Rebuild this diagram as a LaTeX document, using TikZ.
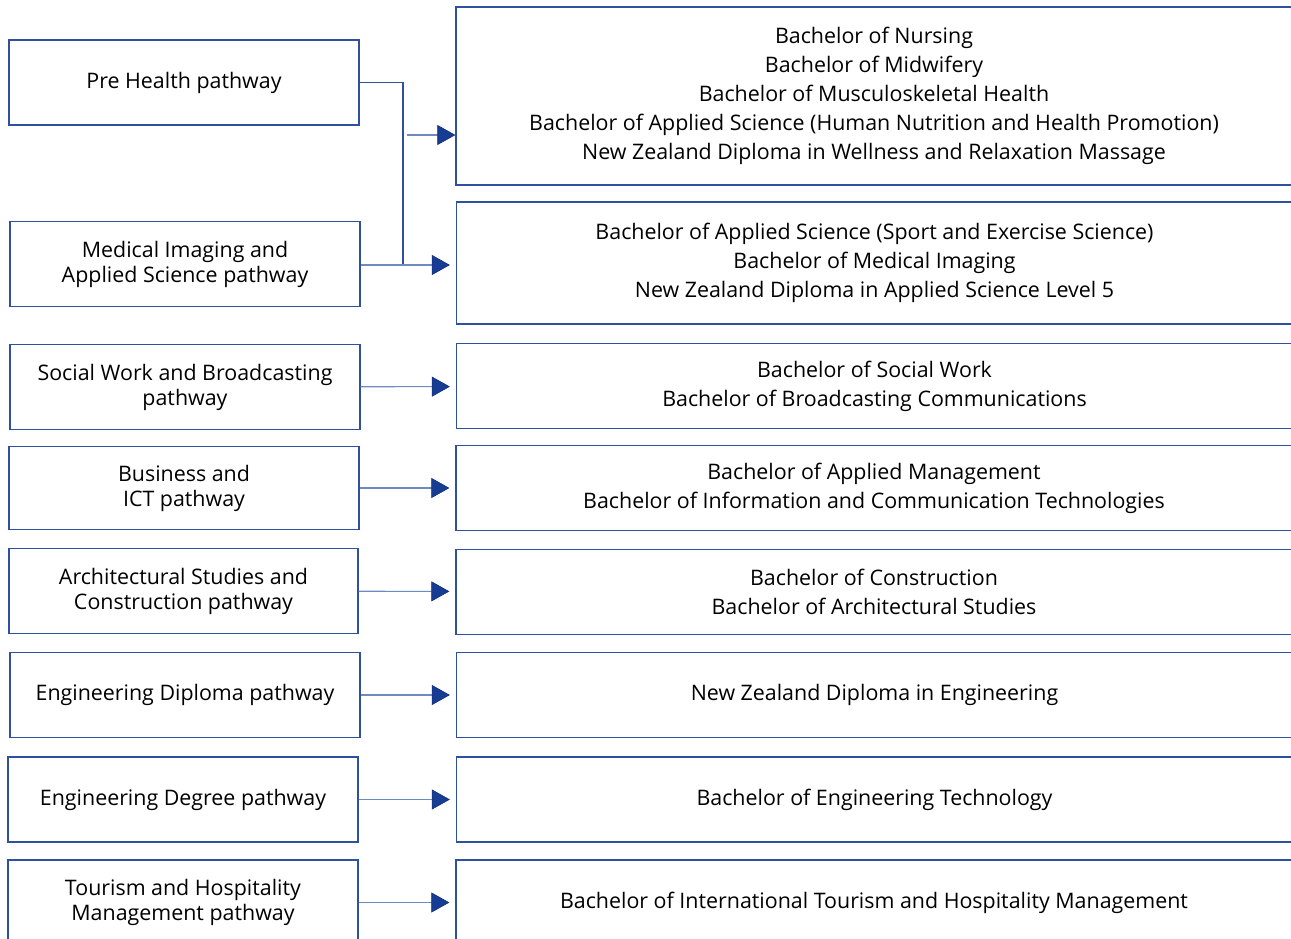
\documentclass[tikz,border=0pt]{standalone}
\usepackage{fontspec}
\setmainfont{Open Sans}
\usetikzlibrary{arrows.meta}
\definecolor{bord}{RGB}{47,80,158}
\definecolor{conn}{RGB}{110,138,192}
\definecolor{tipc}{RGB}{22,60,148}
\newcommand{\raisetxt}[1]{\raisebox{1.5pt}{\begin{tabular}{@{}c@{}}#1\end{tabular}}}
\tikzset{
  lbox/.style={draw=bord, line width=1.3pt, minimum width=350pt, minimum height=85pt, align=center, inner sep=0pt, font=\fontsize{21.4}{25}\selectfont, text=black},
  rbox/.style={draw=bord, line width=1.3pt, minimum width=836pt, minimum height=85pt, align=center, inner sep=0pt, font=\fontsize{21.4}{29}\selectfont, text=black},
  arr/.style={draw=conn, line width=1.1pt, shorten >=6pt, -{Triangle[length=18pt,width=20pt,fill=tipc,color=tipc!80!black,line width=0.6pt]}},
}
\begin{document}
\begin{tikzpicture}[x=1pt,y=-1pt]
\useasboundingbox (0,0) rectangle (1291,939);
\clip (0,0) rectangle (1291,939);
% left boxes
\node[lbox] (L1) at (184,82.5) {Pre Health pathway};
\node[lbox] (L2) at (185,264) {Medical Imaging and\\Applied Science pathway};
\node[lbox] (L3) at (185,387) {Social Work and Broadcasting\\pathway};
\node[lbox, minimum height=83pt] (L4) at (184,488) {Business and\\ICT pathway};
\node[lbox, minimum width=349pt] (L5) at (183.5,591) {Architectural Studies and\\Construction pathway};
\node[lbox] (L6) at (185,695) {Engineering Diploma pathway};
\node[lbox] (L7) at (183,799.5) {Engineering Degree pathway};
\node[lbox] (L8) at (183,902.5) {Tourism and Hospitality\\Management pathway};
% right boxes
\node[rbox, minimum height=178pt] (R1) at (874,96) {Bachelor of Nursing\\Bachelor of Midwifery\\Bachelor of Musculoskeletal Health\\Bachelor of Applied Science (Human Nutrition and Health Promotion)\\New Zealand Diploma in Wellness and Relaxation Massage};
\node[rbox, minimum height=122pt] (R2) at (874.5,263) {Bachelor of Applied Science (Sport and Exercise Science)\\Bachelor of Medical Imaging\\New Zealand Diploma in Applied Science Level 5};
\node[rbox] (R3) at (874.5,386) {Bachelor of Social Work\\Bachelor of Broadcasting Communications};
\node[rbox] (R4) at (874,488) {Bachelor of Applied Management\\Bachelor of Information and Communication Technologies};
\node[rbox] (R5) at (874,592) {Bachelor of Construction\\Bachelor of Architectural Studies};
\node[rbox] (R6) at (874.5,695) {New Zealand Diploma in Engineering};
\node[rbox] (R7) at (874.5,799.5) {Bachelor of Engineering Technology};
\node[rbox] (R8) at (874,902.5) {Bachelor of International Tourism and Hospitality Management};
% connectors
\coordinate (j) at (403,265);
\coordinate (s1) at (407,135);
\draw[draw=bord, line width=1.1pt] (L1.east) -| (j);
\draw[arr] (L2.east |- j) -- (R2.west |- j);
\draw[arr, shorten >=0pt] (s1) -- (s1 -| R1.west);
\draw[arr] (L3) -- (R3);
\draw[arr] (L4) -- (R4);
\draw[arr] (L5) -- (R5);
\draw[arr] (L6) -- (R6);
\draw[arr] (L7) -- (R7);
\draw[arr] (L8) -- (R8);
\end{tikzpicture}
\end{document}
